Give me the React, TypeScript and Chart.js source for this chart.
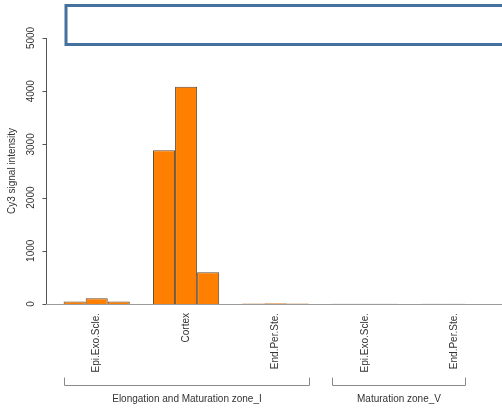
import React, { useEffect, useRef } from "react";
import { Chart, registerables } from "chart.js";

Chart.register(...registerables);

const categories = ["Epi.Exo.Scle.", "Cortex", "End.Per.Ste.", "Epi.Exo.Scle.", "End.Per.Ste."];
const bar1 = [45, 2890, 8, 4, 4];
const bar2 = [107, 4085, 15, 4, 4];
const bar3 = [45, 595, 8, 4, 2];
const yTicks = [0, 1000, 2000, 3000, 4000, 5000];
const yTitle = "Cy3 signal intensity";
const groupLabels = ["Elongation and Maturation zone_I", "Maturation zone_V"];
const groupFrom = [-0.37, 2.63];
const groupTo = [2.37, 4.12];

const ORANGE = "#FF7F00";
const EDGE = "rgba(70,40,10,0.85)";
const TEXT = "#333333";

const decor = {
  id: "decor",
  beforeDatasetsDraw(chart: any) {
    const { ctx, chartArea } = chart;
    const y = chart.scales.y;
    const base = y.getPixelForValue(0);
    ctx.save();
    ctx.strokeStyle = "#9a9a9a";
    ctx.lineWidth = 1;
    ctx.beginPath();
    ctx.moveTo(chartArea.left - 5, base + 0.5);
    ctx.lineTo(chart.width, base + 0.5);
    ctx.stroke();
    ctx.restore();
  },
  afterDraw(chart: any) {
    const { ctx, chartArea } = chart;
    const y = chart.scales.y;
    const x = chart.scales.x;
    const ax = chartArea.left - 5.5;
    ctx.save();
    // y axis
    ctx.strokeStyle = "#555555";
    ctx.lineWidth = 1;
    ctx.beginPath();
    ctx.moveTo(ax, y.getPixelForValue(yTicks[0]));
    ctx.lineTo(ax, y.getPixelForValue(yTicks[yTicks.length - 1]));
    yTicks.forEach((t) => {
      const py = Math.round(y.getPixelForValue(t)) + 0.5;
      ctx.moveTo(ax - 4, py);
      ctx.lineTo(ax, py);
    });
    ctx.stroke();
    ctx.fillStyle = TEXT;
    ctx.font = "10px 'Liberation Sans', Arial, sans-serif";
    ctx.textAlign = "center";
    ctx.textBaseline = "middle";
    yTicks.forEach((t) => {
      const py = y.getPixelForValue(t);
      ctx.save();
      ctx.translate(ax - 15, py);
      ctx.rotate(-Math.PI / 2);
      ctx.fillText(String(t), 0, 0);
      ctx.restore();
    });
    ctx.save();
    ctx.translate(12, (chartArea.top + chartArea.bottom) / 2);
    ctx.rotate(-Math.PI / 2);
    ctx.fillText(yTitle, 0, 0);
    ctx.restore();
    // group brackets
    const by = 385.5;
    ctx.strokeStyle = "#8a8a8a";
    groupLabels.forEach((lab, i) => {
      const x0 = Math.round(x.getPixelForValue(groupFrom[i])) + 0.5;
      const x1 = Math.round(x.getPixelForValue(groupTo[i])) + 0.5;
      ctx.beginPath();
      ctx.moveTo(x0, by - 8);
      ctx.lineTo(x0, by);
      ctx.lineTo(x1, by);
      ctx.lineTo(x1, by - 8);
      ctx.stroke();
      ctx.fillText(lab, (x0 + x1) / 2, 399);
    });
    // overlay box
    ctx.strokeStyle = "#44719E";
    ctx.lineWidth = 3;
    ctx.fillStyle = "#ffffff";
    ctx.beginPath();
    ctx.rect(66, 5.5, 480, 39);
    ctx.fill();
    ctx.stroke();
    ctx.restore();
  },
};

export default function App() {
  const ref = useRef<HTMLCanvasElement | null>(null);
  useEffect(() => {
    if (!ref.current) return;
    const ds = (data: number[]) => ({
      data,
      backgroundColor: ORANGE,
      borderColor: EDGE,
      borderWidth: 1,
      borderSkipped: "start" as const,
      barPercentage: 1,
      categoryPercentage: 0.74,
    });
    const chart = new Chart(ref.current, {
      type: "bar",
      data: {
        labels: categories,
        datasets: [ds(bar1), ds(bar2), ds(bar3)],
      },
      options: {
        responsive: false,
        animation: false,
        layout: { padding: { left: 52, right: 3, top: 38, bottom: 0 } },
        plugins: { legend: { display: false }, tooltip: { enabled: false } },
        scales: {
          x: {
            offset: true,
            grid: { display: false, drawTicks: false },
            border: { display: false },
            ticks: {
              autoSkip: false,
              minRotation: 90,
              maxRotation: 90,
              padding: 9,
              color: TEXT,
              font: { size: 10, family: "'Liberation Sans', Arial, sans-serif" },
            },
            afterFit: (s: any) => {
              s.height = 106;
            },
          },
          y: {
            display: false,
            min: 0,
            max: 5000,
          },
        },
      },
      plugins: [decor],
    });
    return () => chart.destroy();
  }, []);
  return (
    <div style={{ position: "absolute", left: 0, top: 0, width: 502, height: 410, background: "#fff" }}>
      <canvas ref={ref} width={502} height={410} />
    </div>
  );
}
